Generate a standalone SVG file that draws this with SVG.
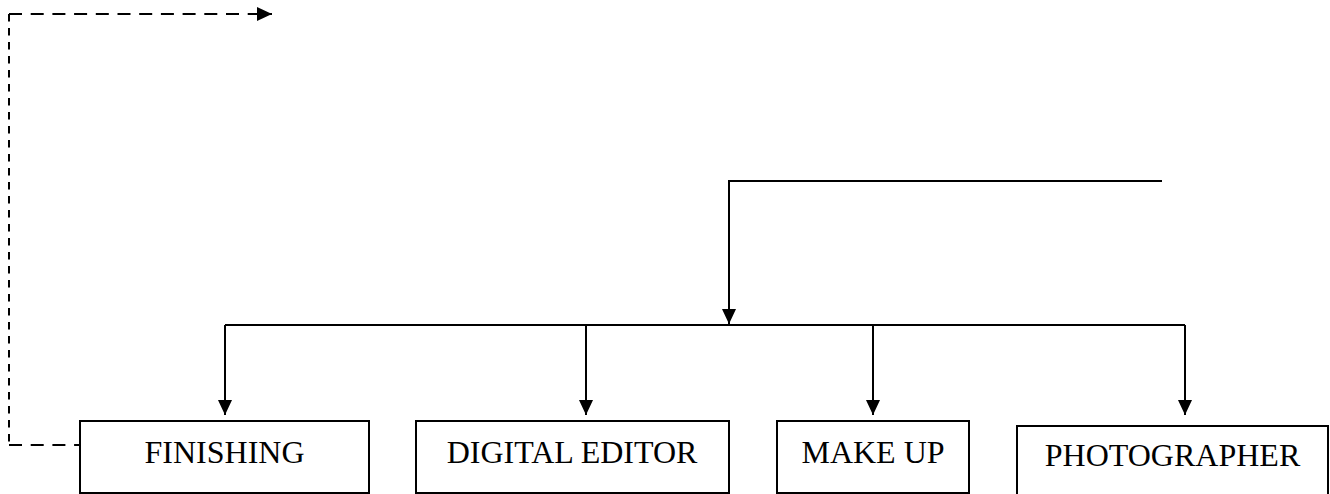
<svg xmlns="http://www.w3.org/2000/svg" width="1330" height="494" viewBox="0 0 1330 494">
<style>
.box{fill:#fff;stroke:#000;stroke-width:2}
.lbl{font-family:"Liberation Serif","Times New Roman",serif;font-size:32px;fill:#000;text-anchor:middle}
.ln{fill:none;stroke:#000;stroke-width:2}
.dh{fill:none;stroke:#000;stroke-width:2;stroke-dasharray:13 8.7}
.dv{fill:none;stroke:#000;stroke-width:2;stroke-dasharray:7.5 6.5}
</style>
<defs>
<marker id="ah" markerWidth="15" markerHeight="14" refX="15" refY="7" orient="auto" markerUnits="userSpaceOnUse">
<path d="M0,0 L15,7 L0,14 Z" fill="#000"/>
</marker>
</defs>
<rect width="1330" height="494" fill="#fff"/>
<g id="connectors">
<path class="dh" d="M9,14 L272,14" marker-end="url(#ah)"/>
<path class="dv" d="M9,14 L9,445"/>
<path class="dh" d="M9,445 L80,445"/>
<path class="ln" d="M1162,181 L729,181 L729,324" marker-end="url(#ah)"/>
<path class="ln" d="M225,325 L1185,325"/>
<path class="ln" d="M225,325 L225,415" marker-end="url(#ah)"/>
<path class="ln" d="M586,325 L586,415" marker-end="url(#ah)"/>
<path class="ln" d="M873,325 L873,415" marker-end="url(#ah)"/>
<path class="ln" d="M1185,325 L1185,415" marker-end="url(#ah)"/>
</g>
<g id="finishing">
<rect class="box" x="80" y="421" width="289" height="72"/>
<text class="lbl" x="224.5" y="463">FINISHING</text>
</g>
<g id="digital-editor">
<rect class="box" x="416" y="421" width="313" height="72"/>
<text class="lbl" x="572" y="463">DIGITAL EDITOR</text>
</g>
<g id="make-up">
<rect class="box" x="777" y="421" width="192" height="72"/>
<text class="lbl" x="873" y="463">MAKE UP</text>
</g>
<g id="photographer">
<rect class="box" x="1017" y="426" width="311" height="80"/>
<text class="lbl" x="1172.5" y="466">PHOTOGRAPHER</text>
</g>
</svg>
